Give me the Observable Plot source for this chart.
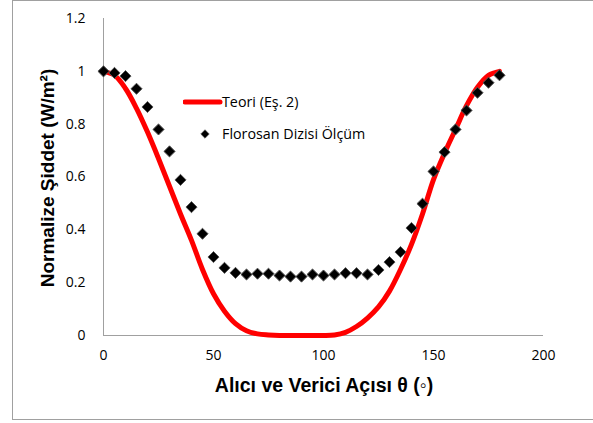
<!DOCTYPE html>
<html>
<head>
<meta charset="utf-8">
<script src="https://cdn.jsdelivr.net/npm/d3@7"></script>
<script src="https://cdn.jsdelivr.net/npm/@observablehq/plot@0.6"></script>
<style>
  html, body { margin: 0; padding: 0; background: #fff; overflow: hidden; }
  #wrap { position: relative; width: 593px; height: 423px; }
  #frame { position: absolute; left: 12px; top: 0px; width: 640px; height: 420px; border: 1px solid #a0a0a0; box-sizing: border-box; }
  #chart { position: absolute; left: 0; top: 0; }
  .title { position: absolute; font-family: "Liberation Sans", Arial, sans-serif; font-weight: bold; color: #000; white-space: nowrap; }
  #xtitle { left: 324px; top: 385px; font-size: 19.5px; transform: translate(-50%, -50%); }
  #ytitle { left: 48px; top: 178px; font-size: 19px; transform: translate(-50%, -50%) rotate(-90deg); }
  #legend { position: absolute; left: 183px; top: 90px; font-family: "Open Sans", sans-serif; font-size: 14.3px; }
</style>
</head>
<body>
<div id="wrap">
  <div id="frame"></div>
  <div id="chart"></div>
  <div class="title" id="xtitle">Alıcı ve Verici Açısı θ (◦)</div>
  <div class="title" id="ytitle">Normalize Şiddet (W/m²)</div>
  <svg id="legend" width="220" height="60"></svg>
</div>
<script>
// Data
const angles = [0,5,10,15,20,25,30,35,40,45,50,55,60,65,70,75,80,85,90,95,100,105,110,115,120,125,130,135,140,145,150,155,160,165,170,175,180];
const measured = [1.0,0.994,0.982,0.934,0.865,0.78,0.697,0.589,0.486,0.385,0.297,0.256,0.237,0.231,0.234,0.234,0.227,0.223,0.223,0.231,0.227,0.231,0.236,0.236,0.231,0.248,0.278,0.316,0.407,0.499,0.621,0.694,0.78,0.852,0.919,0.957,0.985];
const theory = [1.0,0.985,0.935,0.86,0.77,0.67,0.565,0.46,0.36,0.25,0.158,0.092,0.045,0.018,0.006,0.002,0,0,0,0,0,0.002,0.012,0.034,0.066,0.108,0.168,0.25,0.345,0.46,0.59,0.69,0.78,0.87,0.94,0.985,1.0];
const xTicks = [0,50,100,150,200];
const yTicks = [0,0.2,0.4,0.6,0.8,1,1.2];
const seriesNames = ["Teori (Eş. 2)", "Florosan Dizisi Ölçüm"];

const theoryData = angles.map((a, i) => ({x: a, y: theory[i]}));
const measData = angles.map((a, i) => ({x: a, y: measured[i]}));

const chart = Plot.plot({
  width: 593,
  height: 423,
  marginLeft: 103,
  marginRight: 50,
  marginTop: 18,
  marginBottom: 88,
  style: {fontFamily: "'Open Sans', sans-serif", fontSize: "14px", background: "transparent"},
  x: {domain: [0, 200]},
  y: {domain: [0, 1.2]},
  marks: [
    Plot.ruleX([0], {stroke: "#a0a0a0", strokeWidth: 1}),
    Plot.ruleY([0], {stroke: "#a0a0a0", strokeWidth: 1}),
    Plot.axisX(xTicks, {tickSize: 0, tickPadding: 15, label: null, fill: "#000", fontSize: 14}),
    Plot.axisY(yTicks, {tickSize: 0, tickPadding: 18, label: null, fill: "#000", fontSize: 14, tickFormat: d => String(d)}),
    Plot.line(theoryData, {x: "x", y: "y", stroke: "#ff0000", strokeWidth: 5, curve: "catmull-rom"}),
    Plot.dot(measData, {x: "x", y: "y", symbol: "diamond2", r: 5, fill: "#000", stroke: "#555", strokeWidth: 1})
  ]
});
document.getElementById("chart").appendChild(chart);

// Legend
const lg = d3.select("#legend");
lg.append("line").attr("x1", 2).attr("x2", 37).attr("y1", 12).attr("y2", 12)
  .attr("stroke", "#ff0000").attr("stroke-width", 5).attr("stroke-linecap", "round");
lg.append("text").attr("x", 39).attr("y", 12).attr("dy", "0.35em").text(seriesNames[0]);
lg.append("path").attr("d", d3.symbol(d3.symbolDiamond2, 45)()).attr("transform", "translate(22,44)")
  .attr("fill", "#000").attr("stroke", "#555").attr("stroke-width", 0.8);
lg.append("text").attr("x", 39).attr("y", 44).attr("dy", "0.35em").text(seriesNames[1]);
</script>
</body>
</html>
